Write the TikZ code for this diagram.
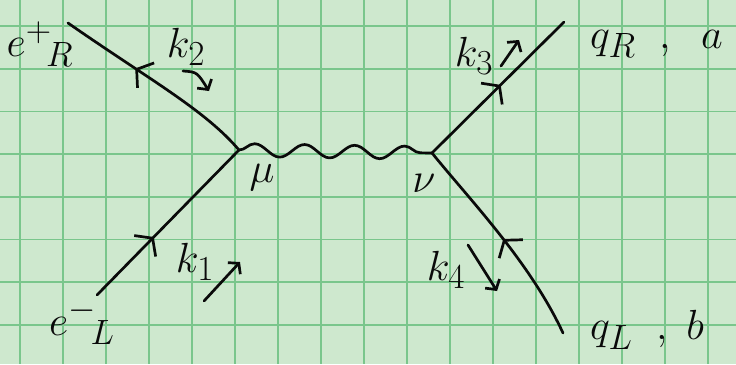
\documentclass[tikz,border=0pt]{standalone}
\usepackage{graphicx}
\usetikzlibrary{arrows.meta,decorations.markings,decorations.pathmorphing}
\definecolor{paper}{RGB}{206,232,206}
\definecolor{gridc}{RGB}{122,198,140}
\definecolor{inkc}{RGB}{10,10,10}
\newcommand{\biglab}[1]{\scalebox{1.7}{#1}}
\tikzset{
  ink/.style={draw=inkc, line width=2.7bp, line cap=round, line join=round},
  fermion/.style={ink, postaction={decorate}, decoration={markings, mark=at position #1 with {\arrow{Straight Barb[length=11bp,width=30bp]}}}},
  antifermion/.style={ink, postaction={decorate}, decoration={markings, mark=at position #1 with {\arrowreversed{Straight Barb[length=11bp,width=30bp]}}}},
  photon/.style={ink, decorate, decoration={snake, segment length=50bp, amplitude=6.5bp}},
  mom/.style={ink, -{Straight Barb[length=7bp,width=17bp]}},
  lab/.style={inner sep=0pt, text=inkc, font=\Huge},
  gridline/.style={draw=gridc, line width=1.6bp},
}
\begin{document}
\begin{tikzpicture}[x=1bp,y=-1bp]
  \fill[paper] (0,0) rectangle (736,364);
  \useasboundingbox (0,0) rectangle (736,364);
  \foreach \i in {0,...,16} \draw[gridline] ({20+43*\i},0) -- ({20+43*\i},364);
  \foreach \j in {0,...,7} \draw[gridline] (0,{26+42.7*\j}) -- (736,{26+42.7*\j});

  % vertices and external ends
  \coordinate (vL) at (239,150);
  \coordinate (vR) at (432,153);
  \coordinate (eRend) at (68,23);
  \coordinate (eLend) at (97,295);
  \coordinate (qRend) at (564,22);
  \coordinate (qLend) at (563,333);

  % fermion lines
  \draw[antifermion=0.38] (eRend) .. controls (150,80) and (205,110) .. (vL);
  \draw[fermion=0.40] (eLend) -- (vL);
  \draw[fermion=0.52] (vR) -- (qRend);
  \draw[antifermion=0.50] (vR) .. controls (470,200) and (530,262) .. (qLend);

  % photon
  \draw[photon] (vL) -- (vR);

  % labels
  \node[lab] (eR) at (40,44) {\biglab{$e^{+}{}_{\!R}$}};
  \node[lab] (eL) at (82,322) {\biglab{$e^{-}{}_{\!L}$}};
  \node[lab] (k2) at (186,47) {\biglab{$k_2$}};
  \node[lab] (k1) at (195,262) {\biglab{$k_1$}};
  \node[lab] (k3) at (474,56) {\biglab{$k_3$}};
  \node[lab] (k4) at (446,270) {\biglab{$k_4$}};
  \node[lab] (mu) at (262,178) {\biglab{$\mu$}};
  \node[lab] (nu) at (424,183) {\biglab{$\nu$}};
  \node[lab, anchor=west] (qR) at (590,44) {\biglab{$q_R\;\;,\;\;a$}};
  \node[lab, anchor=west] (qL) at (590,330) {\biglab{$q_L\;\;,\;b$}};

  % momentum arrows
  \coordinate (m2a) at (183,71);  \coordinate (m2b) at (209,91);
  \coordinate (m1a) at (204,301); \coordinate (m1b) at (240,262);
  \coordinate (m3a) at (501,66);  \coordinate (m3b) at (519,40);
  \coordinate (m4a) at (468,245); \coordinate (m4b) at (497,291);
  \draw[mom] (m2a) .. controls (197,72) .. (m2b);
  \draw[mom] (m1a) -- (m1b);
  \draw[mom] (m3a) -- (m3b);
  \draw[mom] (m4a) -- (m4b);
\end{tikzpicture}
\end{document}
